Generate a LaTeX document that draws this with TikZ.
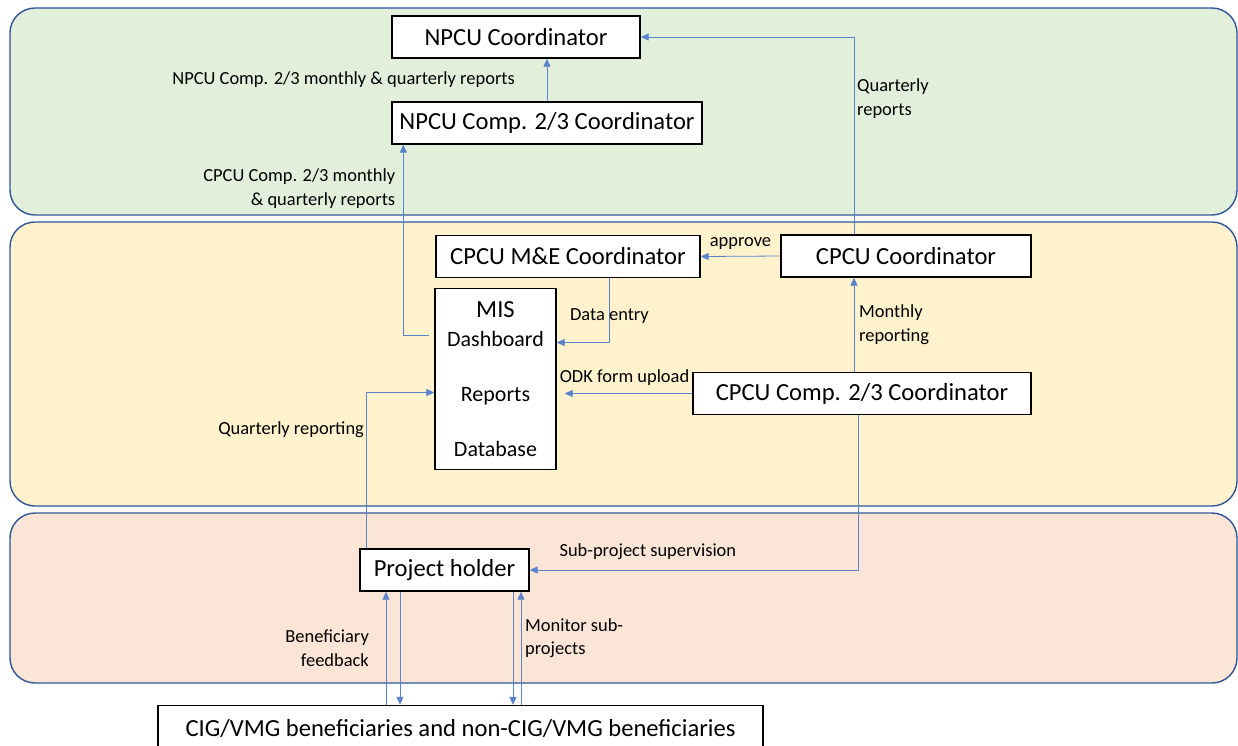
\documentclass[tikz,border=0pt]{standalone}
\usepackage{fontspec}
\setmainfont{Carlito}
\usetikzlibrary{arrows.meta, positioning, calc}
\definecolor{npcuband}{RGB}{226,239,218}
\definecolor{cpcuband}{RGB}{255,242,204}
\definecolor{fieldband}{RGB}{251,229,214}
\definecolor{bandline}{RGB}{47,85,151}
\definecolor{flowblue}{RGB}{90,130,205}

\begin{document}
\begin{tikzpicture}[
    x=0.02cm, y=-0.02cm,
    band/.style={draw=bandline, line width=0.8pt, rounded corners=0.5cm},
    box/.style={draw, line width=0.8pt, fill=white, inner sep=2pt, minimum height=0.84cm, font=\fontsize{14}{16.5}\selectfont},
    lbl/.style={font=\fontsize{10.5}{13.5}\selectfont, inner sep=1pt, text=black},
    arrow/.style={-{Triangle[length=1.6mm, width=1.4mm]}, draw=flowblue, line width=0.45pt}
]
    \useasboundingbox (0,0) rectangle (1238,745);

    % Bands
    \draw[band, fill=npcuband] (10,8) rectangle (1237,215);
    \draw[band, fill=cpcuband] (10,222) rectangle (1237,506);
    \draw[band, fill=fieldband] (10,513) rectangle (1237,683);

    % Boxes
    \node[box, minimum width=4.96cm] (nc1) at (516,37) {NPCU Coordinator};
    \node[box, minimum width=6.2cm] (nc2) at (547,123) {NPCU Comp. 2/3 Coordinator};
    \node[box, minimum width=5.28cm] (me) at (568,256.5) {CPCU M\&E Coordinator};
    \node[box, minimum width=5cm] (cc) at (906,256) {CPCU Coordinator};
    \node[box, minimum width=2.42cm, minimum height=3.62cm, align=center] (mis) at (495.5,379)
        {MIS\\{\fontsize{12.5}{16.5}\selectfont Dashboard}\\[15pt]{\fontsize{12.5}{16.5}\selectfont Reports}\\[15pt]{\fontsize{12.5}{16.5}\selectfont Database}};
    \node[box, minimum width=6.76cm] (ccc) at (862,393.5) {CPCU Comp. 2/3 Coordinator};
    \node[box, minimum width=3.38cm] (ph) at (444.5,570) {Project holder};
    \node[box, minimum width=12.1cm, minimum height=0.9cm] (ben) at (460.5,728) {CIG/VMG beneficiaries and non-CIG/VMG beneficiaries};

    % Reporting lines
    \draw[arrow] (nc2.north) -- (nc2.north |- nc1.south)
        node[lbl, midway, left, xshift=-0.6cm] {NPCU Comp. 2/3 monthly \& quarterly reports};
    \draw[arrow] ($(mis.west)+(-5,-43.5)$) -| ($(nc2.south west)+(12,0)$)
        node[lbl, pos=0.885, left, xshift=-0.12cm, align=right] {CPCU Comp. 2/3 monthly\\\& quarterly reports};
    \draw[arrow] ($(cc.north)+(-52,0)$) |- (nc1.east)
        node[lbl, pos=0.344, right, xshift=0.02cm, align=left] {Quarterly\\reports};
    \draw[arrow] (cc.west) -- (me.east)
        node[lbl, midway, above, yshift=0.1cm] {approve};
    \draw[arrow] ($(me.south)+(41,0)$) |- ($(mis.east)+(0,-36.5)$);
    \node[lbl, anchor=west] (dataentry) at (568,316) {Data entry};
    \draw[arrow, shorten >=8*0.02cm] (ccc.west) -- (mis.east |- ccc.west)
        node[lbl, midway, above, yshift=0.12cm] {ODK form upload};
    \draw[arrow] ($(ccc.north)+(-8,0)$) -- ($(cc.south)+(-52,0)$)
        node[lbl, midway, right, xshift=0.06cm, align=left] {Monthly\\reporting};
    \draw[arrow] ($(ccc.south)+(-4,0)$) |- (ph.east)
        node[lbl, pos=0.82, above, yshift=0.16cm] {Sub-project supervision};
    \draw[arrow] ($(ph.north)+(-78.5,0)$) |- ($(mis.west)+(0,13.5)$)
        node[lbl, pos=0.38, left] {Quarterly reporting};

    % Beneficiary links
    \draw[arrow] ($(ben.north)+(-74.5,0)$) -- ($(ph.south)+(-58.5,0)$)
        node[lbl, midway, left, xshift=-0.3cm, align=right] {Beneficiary\\feedback};
    \draw[arrow] ($(ph.south)+(-44.5,0)$) -- ($(ben.north)+(-60.5,0)$);
    \draw[arrow] ($(ph.south)+(68.5,0)$) -- ($(ben.north)+(52.5,0)$);
    \draw[arrow] ($(ben.north)+(60.5,0)$) -- ($(ph.south)+(76.5,0)$)
        node[lbl, pos=0.59, right, xshift=0.04cm, align=left] {Monitor sub-\\projects};
\end{tikzpicture}
\end{document}
